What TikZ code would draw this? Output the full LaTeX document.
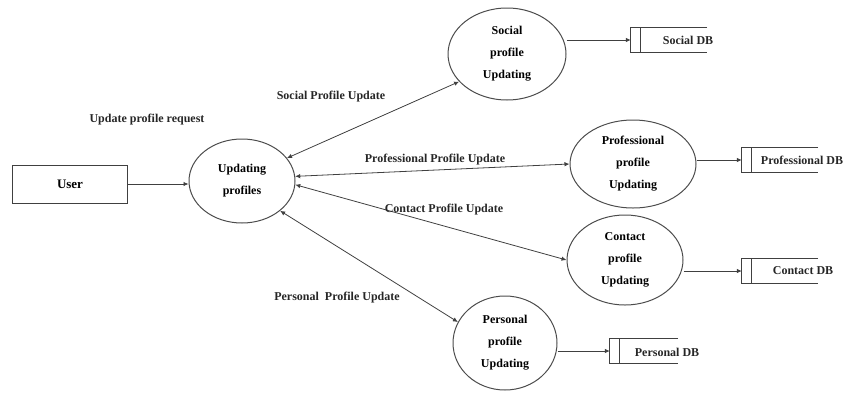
\documentclass[tikz,border=0pt]{standalone}
\usepackage{fontspec}
\setmainfont{Liberation Serif}
\usetikzlibrary{shapes.geometric,arrows.meta}
\tikzset{
  ln/.style={draw=black!75, line width=0.8pt},
  proc/.style={ellipse, draw=black!70, line width=1pt, inner sep=0pt, align=center, font=\bfseries\fontsize{12}{22}\selectfont},
  lbl/.style={font=\bfseries\fontsize{12}{14}\selectfont, text=black!85, inner sep=0pt},
  dbbox/.style={minimum height=25pt, inner sep=0pt},
  tip/.style={-{Latex[length=5pt,width=4.5pt]}},
  tips/.style={{Latex[length=5pt,width=4.5pt]}-{Latex[length=5pt,width=4.5pt]}}
}
\begin{document}
\begin{tikzpicture}[x=1pt,y=-1pt]
\useasboundingbox (0,0) rectangle (850,394);
% user
\node[draw=black!75, line width=1pt, minimum width=115pt, minimum height=38pt, inner sep=0pt, font=\bfseries\fontsize{13}{15}\selectfont] (user) at (70,184) {User};
% processes
\node[proc, minimum width=106pt, minimum height=84pt] (up) at (242,181) {Updating\\profiles};
\node[proc, minimum width=118pt, minimum height=92pt] (soc) at (507,54) {Social\\profile\\Updating};
\node[proc, minimum width=126pt, minimum height=88pt] (pro) at (633,164) {Professional\\profile\\Updating};
\node[proc, minimum width=116pt, minimum height=90pt] (con) at (625,260) {Contact\\profile\\Updating};
\node[proc, minimum width=104pt, minimum height=94pt] (per) at (505,343) {Personal\\profile\\Updating};
% data stores
\node[dbbox, minimum width=76pt] (sdb) at (669,40) {};
\node[dbbox, minimum width=76pt] (pdb) at (780,160) {};
\node[dbbox, minimum width=76pt] (cdb) at (780,271) {};
\node[dbbox, minimum width=68pt] (edb) at (644,351) {};
\foreach \d in {sdb,pdb,cdb,edb}{
  \draw[ln] (\d.north east) -- (\d.north west) -- (\d.south west) -- (\d.south east);
  \draw[ln] ([xshift=10pt]\d.north west) -- ([xshift=10pt]\d.south west);
}
\node[lbl] (sdbt) at (688,40) {Social DB};
\node[lbl] (pdbt) at (802,160) {Professional DB};
\node[lbl] (cdbt) at (803,271) {Contact DB};
\node[lbl] (edbt) at (667,352) {Personal DB};
% flows
\draw[ln, tip] (user.east) -- (user.east -| up.west);
\draw[ln, tips] (up.27) -- (soc.210);
\draw[ln, tips] (up.5) -- (pro.180);
\draw[ln, tips] (up.-4) -- (con.180);
\draw[ln, tips] (up.-38) -- (per.156);
\draw[ln, tip] (soc.east |- sdb.west) -- (sdb.west);
\draw[ln, tip] (pro.east |- pdb.west) -- (pdb.west);
\draw[ln, tip] (con.east |- cdb.west) -- (cdb.west);
\draw[ln, tip] (per.east |- edb.west) -- (edb.west);
% labels
\node[lbl] (l0) at (147,120) {Update profile request};
\node[lbl] (l1) at (331,97) {Social Profile Update};
\node[lbl] (l2) at (435,160) {Professional Profile Update};
\node[lbl] (l3) at (444,210) {Contact Profile Update};
\node[lbl] (l4) at (337,298) {Personal\ \ Profile Update};
\end{tikzpicture}
\end{document}
